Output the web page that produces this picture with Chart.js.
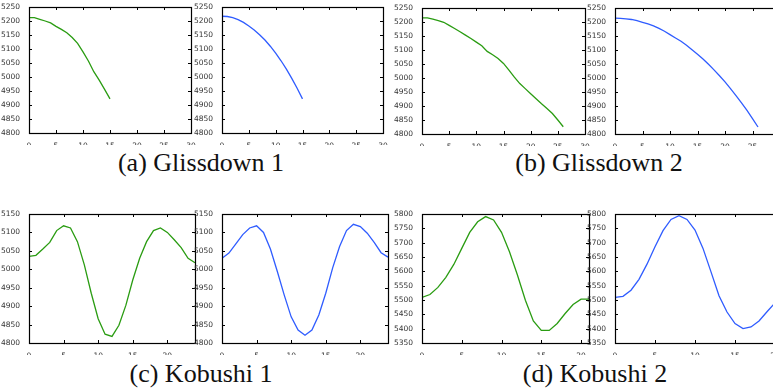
<!DOCTYPE html>
<html>
<head>
<meta charset="utf-8">
<script src="https://cdn.jsdelivr.net/npm/chart.js@4.4.1/dist/chart.umd.min.js"></script>
<style>
    html, body { margin: 0; padding: 0; background: #fff; }
    body { width: 773px; height: 392px; position: relative; overflow: hidden; }
    canvas { position: absolute; }
    .caption {
        position: absolute;
        font-family: "Liberation Serif", "DejaVu Serif", serif;
        font-size: 26px;
        color: #111;
        white-space: nowrap;
        transform: translate(-50%, -50%);
    }
</style>
</head>
<body>
<canvas id="c1"></canvas>
<canvas id="c2"></canvas>
<canvas id="c3"></canvas>
<canvas id="c4"></canvas>
<canvas id="c5"></canvas>
<canvas id="c6"></canvas>
<canvas id="c7"></canvas>
<canvas id="c8"></canvas>
<div class="caption" style="left:201px; top:163px;">(a) Glissdown 1</div>
<div class="caption" style="left:599px; top:163px;">(b) Glissdown 2</div>
<div class="caption" style="left:201px; top:374px;">(c) Kobushi 1</div>
<div class="caption" style="left:595px; top:374px;">(d) Kobushi 2</div>
<script>
// Значения (x = индекс точки)
const glissdown1Measured = [5212, 5212, 5206, 5200, 5193, 5181, 5170, 5158, 5141, 5120, 5090, 5057, 5019, 4989, 4956, 4922];
const glissdown1Fitted = [5217, 5216, 5212, 5205, 5195, 5182, 5168, 5151, 5132, 5110, 5085, 5058, 5028, 4995, 4960, 4922];

const glissdown2Measured = [5215, 5215, 5210, 5205, 5199, 5188, 5177, 5165, 5153, 5141, 5128, 5115, 5095, 5083, 5070, 5052,
    5028, 5003, 4980, 4962, 4944, 4926, 4908, 4891, 4873, 4850, 4826];
const glissdown2Fitted = [5214, 5213, 5211, 5209, 5205, 5199, 5193, 5186, 5177, 5167, 5155, 5143, 5131, 5117, 5101, 5085,
    5068, 5049, 5029, 5008, 4986, 4962, 4937, 4911, 4884, 4855, 4825];

const kobushi1Measured = [5035, 5038, 5055, 5073, 5105, 5118, 5112, 5075, 5012, 4935, 4866, 4824, 4818, 4848, 4902, 4971,
    5030, 5075, 5105, 5112, 5100, 5080, 5059, 5030, 5018];
const kobushi1Fitted = [5030, 5044, 5069, 5094, 5112, 5118, 5100, 5055, 4994, 4930, 4871, 4835, 4821, 4835, 4876, 4935,
    5004, 5062, 5105, 5122, 5116, 5098, 5073, 5045, 5033];

const kobushi2Measured = [5509, 5519, 5544, 5579, 5624, 5680, 5736, 5773, 5791, 5779, 5736, 5668, 5587, 5499, 5427, 5394,
    5394, 5418, 5453, 5484, 5503, 5503];
const kobushi2Fitted = [5509, 5513, 5534, 5572, 5625, 5686, 5742, 5781, 5794, 5781, 5744, 5680, 5598, 5515, 5458, 5418,
    5400, 5406, 5427, 5459, 5490, 5520];

const xTickStep = 5;
const yTickStep = 50;
const glissdownYRange = [4800, 5250];
const kobushi1YRange = [4800, 5150];
const kobushi2YRange = [5350, 5800];

const GREEN = '#2a9c12';
const BLUE = '#2f5cff';

const AXIS_W = 29;
const PAD_TOP = 8;
const PAD_RIGHT = 8;
const XAXIS_H = 12;

// Рамка и внутренние засечки как в matplotlib
const framePlugin = {
    id: 'frame',
    afterDraw(chart) {
        const { ctx, chartArea: a, scales } = chart;
        ctx.save();
        ctx.strokeStyle = '#000';
        ctx.lineWidth = 1;
        ctx.beginPath();
        scales.x.ticks.forEach(t => {
            const px = Math.round(scales.x.getPixelForValue(t.value)) + 0.5;
            ctx.moveTo(px, a.bottom);
            ctx.lineTo(px, a.bottom - 3);
            ctx.moveTo(px, a.top);
            ctx.lineTo(px, a.top + 3);
        });
        scales.y.ticks.forEach(t => {
            const py = Math.round(scales.y.getPixelForValue(t.value)) + 0.5;
            ctx.moveTo(a.left, py);
            ctx.lineTo(a.left + 3, py);
            ctx.moveTo(a.right, py);
            ctx.lineTo(a.right - 3, py);
        });
        ctx.stroke();
        ctx.lineWidth = 1.2;
        ctx.strokeRect(Math.round(a.left) + 0.5, Math.round(a.top) + 0.5,
            Math.round(a.right - a.left), Math.round(a.bottom - a.top));
        ctx.restore();
    }
};

function toPoints(values) {
    return values.map((v, i) => ({ x: i, y: v }));
}

function createPanel(id, rect, values, color, xMax, yRange) {
    const [left, top, right, bottom] = rect;
    const canvas = document.getElementById(id);
    const w = (right - left) + AXIS_W + PAD_RIGHT;
    const h = (bottom - top) + PAD_TOP + XAXIS_H;
    canvas.width = w;
    canvas.height = h;
    canvas.style.left = (left - AXIS_W) + 'px';
    canvas.style.top = (top - PAD_TOP) + 'px';
    canvas.style.width = w + 'px';
    canvas.style.height = h + 'px';

    const tickFont = { family: 'DejaVu Sans', size: 7.5 };

    return new Chart(canvas, {
        type: 'line',
        data: {
            datasets: [{
                data: toPoints(values),
                borderColor: color,
                borderWidth: 1.3,
                pointRadius: 0,
                tension: 0,
                fill: false
            }]
        },
        options: {
            responsive: false,
            animation: false,
            devicePixelRatio: 1,
            layout: { padding: { top: PAD_TOP, right: PAD_RIGHT, left: 0, bottom: 0 } },
            plugins: { legend: { display: false }, tooltip: { enabled: false } },
            scales: {
                x: {
                    type: 'linear',
                    min: 0,
                    max: xMax,
                    ticks: {
                        stepSize: xTickStep, includeBounds: false, font: tickFont, color: '#333',
                        padding: 1, maxRotation: 0, callback: v => String(v)
                    },
                    grid: { display: false },
                    border: { display: false },
                    afterFit: s => { s.height = XAXIS_H; }
                },
                y: {
                    min: yRange[0],
                    max: yRange[1],
                    ticks: {
                        stepSize: yTickStep, includeBounds: false, font: tickFont, color: '#333',
                        padding: 1, callback: v => String(v)
                    },
                    grid: { display: false },
                    border: { display: false },
                    afterFit: s => { s.width = AXIS_W; }
                }
            }
        },
        plugins: [framePlugin]
    });
}

createPanel('c1', [29, 7, 191, 133], glissdown1Measured, GREEN, 30, glissdownYRange);
createPanel('c2', [222, 7, 383, 133], glissdown1Fitted, BLUE, 30, glissdownYRange);
createPanel('c3', [422, 8, 585, 134], glissdown2Measured, GREEN, 30, glissdownYRange);
createPanel('c4', [615, 8, 780, 134], glissdown2Fitted, BLUE, 30, glissdownYRange);
createPanel('c5', [29, 214, 195, 343], kobushi1Measured, GREEN, 24, kobushi1YRange);
createPanel('c6', [222, 214, 388, 343], kobushi1Fitted, BLUE, 24, kobushi1YRange);
createPanel('c7', [422, 214, 589, 343], kobushi2Measured, GREEN, 21, kobushi2YRange);
createPanel('c8', [615, 214, 783, 343], kobushi2Fitted, BLUE, 21, kobushi2YRange);
</script>
</body>
</html>
